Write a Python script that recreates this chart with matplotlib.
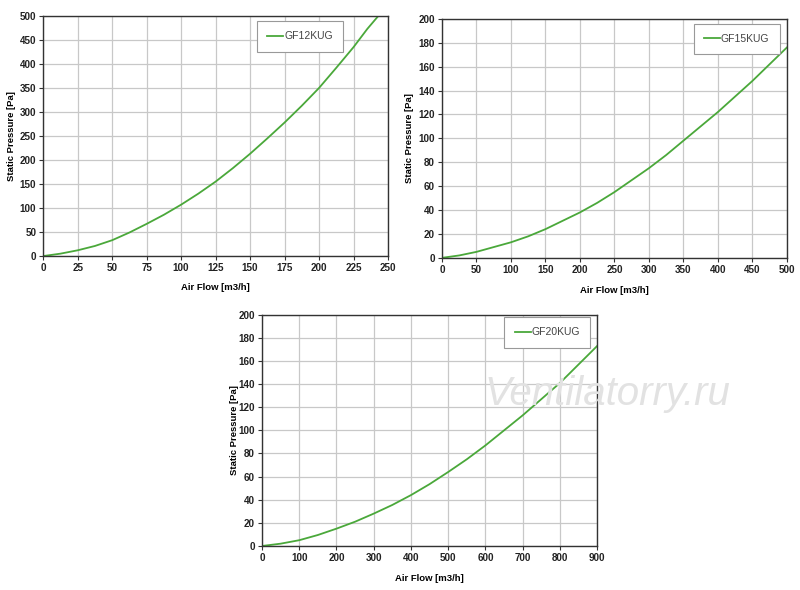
import matplotlib.pyplot as plt

plt.rcParams['font.family'] = ['Liberation Sans', 'DejaVu Sans']

# GF12KUG
flow_12 = [0, 12.5, 25, 37.5, 50, 62.5, 75, 87.5, 100, 112.5, 125, 137.5,
           150, 162.5, 175, 187.5, 200, 212.5, 225, 235, 243]
pres_12 = [0, 5, 12, 21, 33, 49, 67, 86, 107, 130, 155, 183,
           213, 245, 278, 313, 350, 392, 435, 473, 500]

# GF15KUG
flow_15 = [0, 25, 50, 75, 100, 125, 150, 175, 200, 225, 250, 275,
           300, 325, 350, 375, 400, 425, 450, 475, 500]
pres_15 = [0, 2, 5, 9, 13, 18, 24, 31, 38, 46, 55, 65,
           75, 86, 98, 110, 122, 135, 148, 162, 176]

# GF20KUG
flow_20 = [0, 50, 100, 150, 200, 250, 300, 350, 400, 450, 500, 550,
           600, 650, 700, 750, 800, 850, 900]
pres_20 = [0, 2, 5, 9.5, 15, 21, 28, 35.5, 44, 53.5, 64, 75,
           87, 100, 113, 127, 141, 157, 173]

GREEN = "#4aa83a"

fig = plt.figure(figsize=(8, 5.9), dpi=100)


def panel(rect, x, y, name, xmax, xstep, ymax, ystep, leg_pos, xpad, ypad):
    ax = fig.add_axes(rect)
    ax.plot(x, y, color=GREEN, lw=1.3, label=name)
    ax.set_xlim(0, xmax)
    ax.set_ylim(0, ymax)
    ax.set_xticks(range(0, xmax + 1, xstep))
    ax.set_yticks(range(0, ymax + 1, ystep))
    ax.grid(True, color="#c8c8c8", lw=0.9)
    ax.set_axisbelow(True)
    for s in ax.spines.values():
        s.set_color("#333333")
        s.set_linewidth(1.0)
    ax.tick_params(labelsize=7.1, length=3, width=0.8, color="#333333", pad=2)
    for t in ax.get_xticklabels() + ax.get_yticklabels():
        t.set_fontweight("bold")
        t.set_color("#222222")
    ax.set_xlabel("Air Flow [m3/h]", fontsize=6.8, fontweight="bold", labelpad=xpad)
    ax.set_ylabel("Static Pressure [Pa]", fontsize=6.8, fontweight="bold", labelpad=ypad)
    leg = ax.legend(loc="upper right", bbox_to_anchor=leg_pos, fontsize=7.5,
                    fancybox=False, handlelength=1.5, handletextpad=0.1,
                    borderpad=1.0, borderaxespad=0, framealpha=1)
    leg.get_frame().set_edgecolor("#999999")
    leg.get_frame().set_linewidth(0.8)
    for t in leg.get_texts():
        t.set_color("#444444")
    return ax


panel([0.054, 0.566, 0.431, 0.407], flow_12, pres_12, "GF12KUG", 250, 25, 500, 50,
      (0.87, 0.98), 7, 3)
panel([0.5525, 0.563, 0.431, 0.405], flow_15, pres_15, "GF15KUG", 500, 50, 200, 20,
      (0.98, 0.98), 8, 3)
panel([0.3275, 0.0746, 0.419, 0.392], flow_20, pres_20, "GF20KUG", 900, 100, 200, 20,
      (0.98, 0.99), 8, 0)

fig.text(0.759, 0.333, "Ventilatorry.ru", fontsize=29, style="italic",
         color="#e2e2e2", ha="center", va="center", zorder=10)

fig.savefig("out.png", dpi=100)
